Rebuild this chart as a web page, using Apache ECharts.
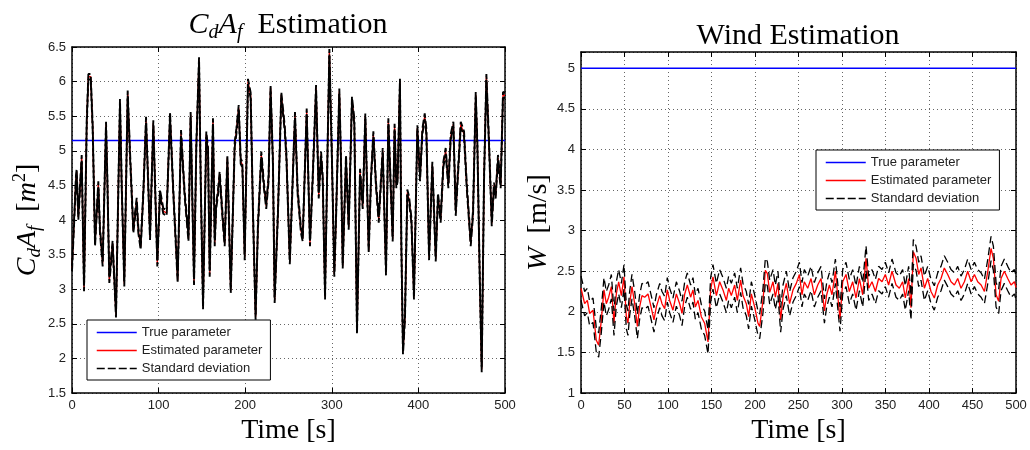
<!DOCTYPE html>
<html>
<head>
<meta charset="utf-8">
<script src="https://cdn.jsdelivr.net/npm/echarts@6/dist/echarts.min.js"></script>
<style>
html,body{margin:0;padding:0;background:#fff;}
#c{width:1030px;height:450px;}
</style>
</head>
<body>
<div id="c"></div>
<script>
// ---- Left panel: CdAf estimation ----
const cdafTime = [0,2.5,4.6,5.4,7.3,11.2,13.9,17,18.9,21.6,23.9,26.6,30.4,32.3,35.4,39.3,40.8,43.1,46.9,50.8,
55.4,57.4,60.4,64.3,67,70.8,74.7,76.6,79.3,82.4,85.5,90.1,93.9,98.5,101.6,105.4,109.3,113.2,117,122,
125.9,130.1,132,134.5,137,140.9,143.6,146.7,148.6,151.3,155.1,157.1,159,162.8,164.8,166.5,168.6,170.5,174.4,176.3,
179.4,183.3,187.9,189.8,192.5,194.8,196.7,199.4,203.2,206.3,209,212,214.7,218.6,221.6,224.3,227,229.3,232,234,
237.8,241.7,245.6,247.5,251.5,257.5,260.6,264.4,266.4,271,274.8,278,281.8,284.9,287.6,289.5,292.2,295.2,297.2,300.2,
302.9,304.8,308.7,310.6,312.6,316.4,319.5,323.3,326,329.1,332.6,335.7,338.7,342.6,345.3,348,351.1,354.2,358.8,362.6,
365.3,368,370.3,372.5,374.5,376,378.7,380.3,382.2,384.5,387.2,389.2,391.9,394.9,398.8,401.9,404.6,407.3,409.2,412.3,
416.1,420,422.6,425.7,428.8,431.5,434.6,437.3,440.4,443.1,445.8,448.9,452.7,455.8,460.4,463.1,466.2,468.1,470.8,473.1,
475.8,478.5,481.6,484.7,487.3,489.2,491.9,495,497.7,500];
const cdafEst = [3.3,4.0,4.61,4.7,4.04,4.9,3.01,5.4,6.07,6.07,5.33,3.66,4.52,3.85,3.37,5.38,4.6,3.13,3.66,2.63,
5.71,4.5,3.08,5.83,4.95,3.85,4.28,3.85,3.61,4.4,5.45,3.75,5.40,3.37,4.4,4.13,4.1,5.52,4.4,3.13,
5.26,4.37,4.35,3.73,5.52,3.1,5.09,6.31,4.6,2.75,5.24,5.0,3.22,5.43,3.66,4.2,4.4,4.66,3.95,3.66,
4.9,2.98,5.09,5.28,5.62,4.85,4.8,3.46,6.0,5.8,4.1,2.6,3.9,4.95,4.5,4.2,4.6,5.91,4.85,2.84,
4.1,5.81,5.33,4.95,3.4,5.52,4.4,3.85,3.73,5.57,3.66,4.62,5.91,4.35,4.95,4.6,2.89,5.09,6.43,4.85,
3.22,4.0,5.86,4.85,3.34,4.9,3.9,5.74,5.43,2.39,4.7,4.2,5.5,3.56,4.6,5.24,4.5,4.0,5.0,3.24,
5.43,4.5,3.73,5.35,4.5,4.6,6.0,3.66,2.1,2.6,4.4,4.3,4.0,2.89,5.33,4.6,5.28,5.5,5.28,3.46,
4.8,3.44,4.35,4.0,4.8,5.0,4.5,5.2,5.38,4.1,4.7,5.38,5.24,4.5,3.66,4.1,5.81,5.09,3.2,1.84,
4.6,6.07,5.09,3.95,4.5,4.35,4.9,4.5,5.81,5.8];
const cdafTrue = 5.15;
const cdafSigma = 0.04;

// ---- Right panel: wind estimation ----
const windTime = [0,4.2,7.3,9.9,13.8,17.6,20.3,23.4,26.4,29.1,31.8,34.9,37.9,40.6,43.3,46.4,49.4,52.1,54,55.9,
58.6,61.7,64.8,67.4,70.1,73.2,77,80.1,83.9,86.6,90.5,93.1,96.2,99.2,101.9,105.7,109.6,113.4,116.1,119.2,
122.2,126,128.7,131.4,134.5,138.3,142.1,146,149,151.7,155.6,159.4,163.2,167.1,169.7,172.8,176.6,179.7,183.5,186.2,
190,192.7,195.8,199.6,203.4,205.4,209.2,211.9,214.2,216.9,220.7,223.4,226.4,229.5,232.2,236,239.8,243.7,247.5,251,
254,256.7,260.6,264.4,268.2,272.1,275.9,279.8,282.4,285.5,288.5,292.4,295,297.7,300.8,304.6,308.4,312.3,316.1,320,
323.8,327.6,330.7,334.5,338.4,342.1,346,349.8,353.6,357.5,362.1,365.9,369.7,372.8,376.6,379.3,382,385.1,388.2,390.8,
394.7,398.5,402.3,406.1,410,413.8,417.6,421.5,425.3,429.2,433,436.8,440.7,444.5,448.4,452.2,456,459.9,463.7,467.6,
471.3,474,477.1,480.1,482.8,486.6,490.5,494.3,498.2,500];
const windEst = [2.29,2.10,2.14,1.98,2.02,1.65,1.59,1.90,2.27,2.10,2.18,2.31,1.86,2.22,2.37,2.20,2.43,1.94,1.86,2.10,
2.31,2.10,1.82,2.06,2.20,2.18,2.22,2.08,1.90,2.06,2.20,2.10,2.04,2.27,2.14,2.02,2.22,2.10,1.98,2.22,
2.33,2.18,2.27,2.06,2.14,1.94,1.86,1.63,2.27,2.43,2.20,2.37,2.27,2.14,2.29,2.20,2.33,2.14,2.39,2.20,
2.10,1.94,2.22,2.06,1.86,1.82,2.14,2.51,2.47,2.24,2.37,2.18,2.35,1.90,2.18,2.35,2.10,2.27,2.35,2.46,
2.21,2.37,2.29,2.41,2.21,2.33,2.41,2.01,2.21,2.33,2.21,2.50,2.21,1.91,2.37,2.46,2.25,2.37,2.17,2.41,
2.21,2.66,2.29,2.37,2.25,2.41,2.37,2.46,2.33,2.50,2.33,2.29,2.37,2.17,2.41,2.05,2.74,2.66,2.46,2.54,
2.29,2.41,2.25,2.17,2.33,2.41,2.54,2.46,2.37,2.33,2.41,2.29,2.37,2.50,2.37,2.46,2.37,2.33,2.25,2.50,
2.78,2.66,2.21,2.13,2.41,2.50,2.41,2.33,2.37,2.30];
const windTrue = 5.0;
const windSigma = 0.15;

const legendNames = ['True parameter', 'Estimated parameter', 'Standard deviation'];

function pairs(ts, vs, off) { return ts.map((t, i) => [t, +(vs[i] + off).toFixed(3)]); }

const SERIF = 'Liberation Serif';
const SANS = 'Liberation Sans';

function axesFor(gi, xInt, yMin, yMax, yInt, yName, yGap, yFmt) {
  const tick = {inside: true, length: 5, lineStyle: {color: '#000', width: 1}};
  const line = {onZero: false, lineStyle: {color: '#000', width: 1.5}};
  const split = {show: true, lineStyle: {type: [1, 3], color: '#666', width: 1}};
  const lab = {color: '#222', fontSize: 13, fontFamily: SANS};
  const xs = [
    {gridIndex: gi, type: 'value', min: 0, max: 500, interval: xInt, position: 'bottom',
     axisLine: line, axisTick: tick, axisLabel: Object.assign({margin: 6}, lab), splitLine: split,
     name: 'Time [s]', nameLocation: 'middle', nameGap: 24,
     nameTextStyle: {fontFamily: SERIF, fontSize: 28, color: '#000'}},
    {gridIndex: gi, type: 'value', min: 0, max: 500, interval: xInt, position: 'top',
     axisLine: line, axisTick: tick, axisLabel: {show: false}, splitLine: {show: false}}
  ];
  const rich = {
    m: {fontFamily: SERIF, fontStyle: 'italic', fontSize: 28, color: '#000'},
    s: {fontFamily: SERIF, fontStyle: 'italic', fontSize: 19, color: '#000', padding: [14, 0, 0, 0]},
    p: {fontFamily: SERIF, fontSize: 18, color: '#000', padding: [0, 0, 14, 0]},
    r: {fontFamily: SERIF, fontSize: 28, color: '#000'}
  };
  const ys = [
    {gridIndex: gi, type: 'value', min: yMin, max: yMax, interval: yInt, position: 'left',
     axisLine: line, axisTick: tick, axisLabel: Object.assign({margin: 6, formatter: yFmt}, lab), splitLine: split,
     name: yName, nameLocation: 'middle', nameGap: yGap, nameRotate: 90,
     nameTextStyle: {rich: rich, fontFamily: SERIF, fontSize: 28, color: '#000'}},
    {gridIndex: gi, type: 'value', min: yMin, max: yMax, interval: yInt, position: 'right',
     axisLine: line, axisTick: tick, axisLabel: {show: false}, splitLine: {show: false}}
  ];
  return {xs, ys};
}

const halfFmt = v => (Math.abs(v * 2 - Math.round(v * 2)) < 1e-6 ? String(+v.toFixed(1)) : '');
const A = axesFor(0, 100, 1.5, 6.5, 0.5, '{m|C}{s|d}{m|A}{s|f}{r|  [}{m|m}{p|2}{r|]}', 28, halfFmt);
const B = axesFor(1, 50, 1, 5.2, 0.5, '{m|W}{r|  [m/s]}', 17, halfFmt);

function panelSeries(xi, yi, ts, vs, tru, sig, dash, bw) {
  return [
    {name: legendNames[0], type: 'line', xAxisIndex: xi, yAxisIndex: yi, symbol: 'none', z: 2,
     data: [[0, tru], [500, tru]], lineStyle: {color: '#0000ff', width: 1.5}, itemStyle: {color: '#0000ff'}},
    {name: legendNames[1], type: 'line', xAxisIndex: xi, yAxisIndex: yi, symbol: 'none', z: 3,
     data: pairs(ts, vs, 0), lineStyle: {color: '#ff0000', width: 1.3}, itemStyle: {color: '#ff0000'}},
    {name: legendNames[2], type: 'line', xAxisIndex: xi, yAxisIndex: yi, symbol: 'none', z: 4,
     data: pairs(ts, vs, sig), lineStyle: {color: '#000', width: bw, type: dash}, itemStyle: {color: '#000'}},
    {name: legendNames[2], type: 'line', xAxisIndex: xi, yAxisIndex: yi, symbol: 'none', z: 4,
     data: pairs(ts, vs, -sig), lineStyle: {color: '#000', width: bw, type: dash}, itemStyle: {color: '#000'}}
  ];
}

const legendBase = {
  orient: 'vertical', data: legendNames, itemWidth: 40, itemHeight: 14, itemGap: 5,
  borderColor: '#000', borderWidth: 1, backgroundColor: '#fff', padding: [6, 8, 5, 9],
  itemStyle: {color: 'rgba(0,0,0,0)', borderWidth: 0, opacity: 0},
  lineStyle: {width: 1.5},
  textStyle: {fontFamily: SANS, fontSize: 13, color: '#222'}, selectedMode: false
};

const titleRich = {
  m: {fontFamily: SERIF, fontStyle: 'italic', fontSize: 30, fill: '#000'},
  s: {fontFamily: SERIF, fontStyle: 'italic', fontSize: 20, fill: '#000', padding: [15, 0, 0, 0]},
  r: {fontFamily: SERIF, fontSize: 30, fill: '#000'}
};

const option = {
  animation: false,
  backgroundColor: '#fff',
  grid: [
    {left: 72, right: 525, top: 47, bottom: 55, containLabel: false},
    {left: 581, right: 14, top: 52, bottom: 54, containLabel: false}
  ],
  xAxis: A.xs.concat(B.xs),
  yAxis: A.ys.concat(B.ys),
  legend: [
    Object.assign({left: 87, top: 320}, legendBase),
    Object.assign({left: 816, top: 150}, legendBase)
  ],
  graphic: [
    {type: 'text', x: 288, y: 25, style: {text: '{m|C}{s|d}{m|A}{s|f}{r|  Estimation}', rich: titleRich,
      align: 'center', verticalAlign: 'middle'}},
    {type: 'text', x: 798, y: 36, style: {text: '{r|Wind Estimation}', rich: titleRich,
      align: 'center', verticalAlign: 'middle'}}
  ],
  series: panelSeries(0, 0, cdafTime, cdafEst, cdafTrue, cdafSigma, [8, 3], 1.9)
    .concat(panelSeries(2, 2, windTime, windEst, windTrue, windSigma, [8, 4], 1.3))
};

const chart = echarts.init(document.getElementById('c'), null, {renderer: 'canvas'});
chart.setOption(option);
</script>
</body>
</html>
